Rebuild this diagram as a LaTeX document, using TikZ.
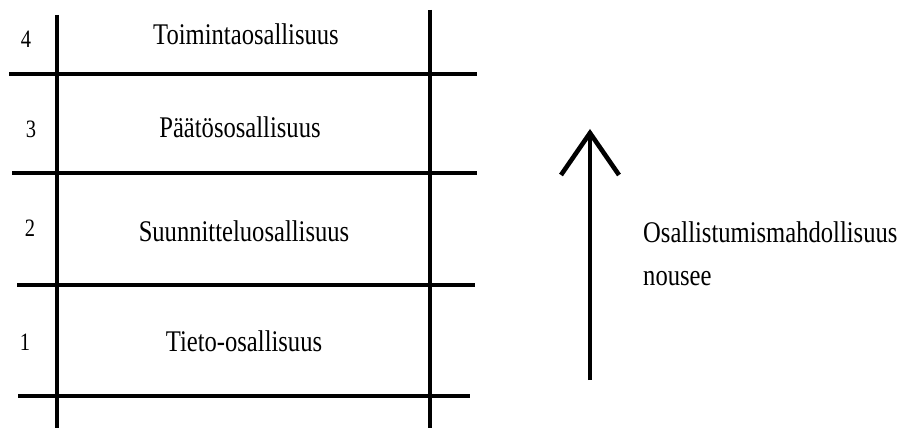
\documentclass[tikz,border=0pt]{standalone}
\usepackage{fontspec}
\setmainfont{Liberation Serif}
\newcommand\sqz[1]{\scalebox{0.82}[1]{#1}}
\tikzset{
  rule/.style={line width=4.6pt, line cap=butt},
  lbl/.style={inner sep=0pt, anchor=base, font=\fontsize{30}{36}\selectfont},
  num/.style={inner sep=0pt, anchor=base, font=\fontsize{25}{30}\selectfont},
  side/.style={inner sep=0pt, anchor=base west, font=\fontsize{30}{36}\selectfont},
}
\begin{document}
\begin{tikzpicture}[x=1pt,y=-1pt]
\useasboundingbox (0,0) rectangle (902,428);
% vertical rules
\coordinate (vl0) at (57,15);  \coordinate (vl1) at (57,428);
\coordinate (vr0) at (430,10); \coordinate (vr1) at (430,428);
\draw[rule] (vl0) -- (vl1);
\draw[rule] (vr0) -- (vr1);
% horizontal rules
\coordinate (h1a) at (9,74);   \coordinate (h1b) at (477,74);
\coordinate (h2a) at (12,173); \coordinate (h2b) at (477,173);
\coordinate (h3a) at (17,285); \coordinate (h3b) at (475,285);
\coordinate (h4a) at (18,396); \coordinate (h4b) at (470,396);
\draw[rule] (h1a) -- (h1b);
\draw[rule] (h2a) -- (h2b);
\draw[rule] (h3a) -- (h3b);
\draw[rule] (h4a) -- (h4b);
% level labels
\node[lbl] (t4) at (246,45)  {\sqz{Toimintaosallisuus}};
\node[lbl] (t3) at (240,137) {\sqz{Päätösosallisuus}};
\node[lbl] (t2) at (244,241) {\sqz{Suunnitteluosallisuus}};
\node[lbl] (t1) at (244,351) {\sqz{Tieto-osallisuus}};
% numbers
\node[num] (n4) at (26,48)  {\sqz{4}};
\node[num] (n3) at (31,137) {\sqz{3}};
\node[num] (n2) at (30,236) {\sqz{2}};
\node[num] (n1) at (25,350) {\sqz{1}};
% arrow
\coordinate (ab) at (590,380);
\coordinate (at) at (590,135);
\coordinate (wl) at (561,175);
\coordinate (wt) at (590,133);
\coordinate (wr) at (619,175);
\draw[line width=4.6pt] (ab) -- (at);
\draw[line width=4.6pt, line join=miter, miter limit=10] (wl) -- (wt) -- (wr);
% side text
\node[side] (s1) at (643,242) {\sqz{Osallistumismahdollisuus}};
\node[side] (s2) at (643,285) {\sqz{nousee}};
\end{tikzpicture}
\end{document}
